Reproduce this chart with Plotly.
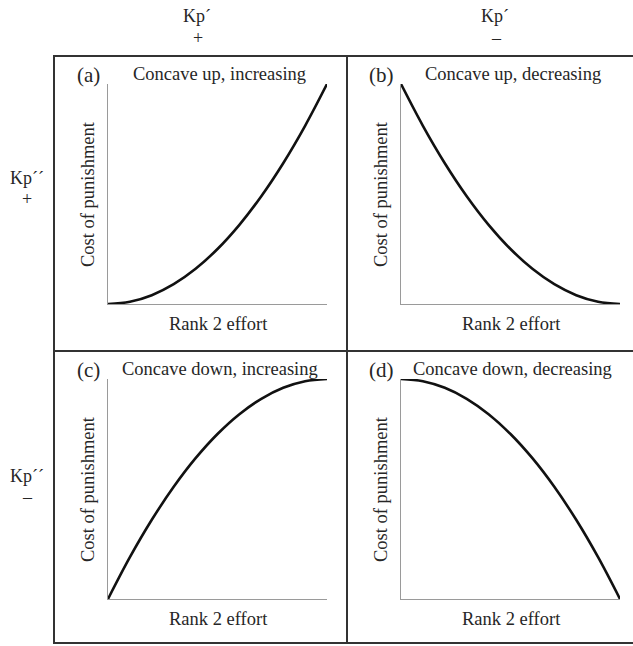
import plotly.graph_objects as go

W, H = 633, 646

# ---- data ----
effort = [0.0, 0.1, 0.2, 0.3, 0.4, 0.5, 0.6, 0.7, 0.8, 0.9, 1.0]
cost_a = [0.0, 0.01, 0.04, 0.09, 0.16, 0.25, 0.36, 0.49, 0.64, 0.81, 1.0]
cost_b = [1.0, 0.81, 0.64, 0.49, 0.36, 0.25, 0.16, 0.09, 0.04, 0.01, 0.0]
cost_c = [0.0, 0.19, 0.36, 0.51, 0.64, 0.75, 0.84, 0.91, 0.96, 0.99, 1.0]
cost_d = [1.0, 0.99, 0.96, 0.91, 0.84, 0.75, 0.64, 0.51, 0.36, 0.19, 0.0]

panel_letters = ["(a)", "(b)", "(c)", "(d)"]
panel_titles = ["Concave up, increasing", "Concave up, decreasing",
                "Concave down, increasing", "Concave down, decreasing"]
x_title = "Rank 2 effort"
y_title = "Cost of punishment"
col_labels = [("Kp´", "+"), ("Kp´", "–")]
row_labels = [("Kp´´", "+"), ("Kp´´", "–")]
series = [cost_a, cost_b, cost_c, cost_d]

FONT = "Liberation Serif"
TXT = "#262626"


def px(x):
    return x / W


def py(y):
    return 1 - y / H


# geometry in pixels
box_left, box_top, box_right, box_bottom = 54, 56, 640, 643
div_x, div_y = 347, 351
col_dx = div_x - box_left      # 293
row_dy = div_y - box_top       # 295
ax_x0, ax_x1 = 108, 327
ax_y0, ax_y1 = 84, 304

fig = go.Figure()
annotations = []
layout_axes = {}

for i in range(4):
    r, c = divmod(i, 2)
    ox = c * col_dx
    oy = r * row_dy
    idx = "" if i == 0 else str(i + 1)
    xa = "x" + idx
    ya = "y" + idx
    fig.add_trace(go.Scatter(
        x=effort, y=series[i], mode="lines",
        line=dict(color="#111111", width=2.6, shape="spline"),
        xaxis=xa, yaxis=ya, cliponaxis=False, hoverinfo="skip",
        showlegend=False))
    layout_axes["xaxis" + idx] = dict(
        domain=[px(ax_x0 + ox), px(ax_x1 + ox)], range=[0, 1],
        anchor=ya, showline=True, linecolor="#9a9a9a", linewidth=1,
        showgrid=False, zeroline=False, showticklabels=False, ticks="",
        fixedrange=True)
    layout_axes["yaxis" + idx] = dict(
        domain=[py(ax_y1 + oy), py(ax_y0 + oy)], range=[0, 1],
        anchor=xa, showline=True, linecolor="#9a9a9a", linewidth=1,
        showgrid=False, zeroline=False, showticklabels=False, ticks="",
        fixedrange=True)

    cx = (ax_x0 + ax_x1) / 2 + ox
    annotations.append(dict(text=panel_letters[i], x=px(88 + ox), y=py(75 + oy),
                            font=dict(size=21)))
    annotations.append(dict(text=panel_titles[i], x=px(cx + 2), y=py(74 + oy),
                            font=dict(size=18.5)))
    annotations.append(dict(text=x_title, x=px(cx + 1), y=py(324 + oy),
                            font=dict(size=18.5)))
    annotations.append(dict(text=y_title, x=px(88 + ox), y=py(194 + oy),
                            textangle=-90, font=dict(size=18.5)))

# column labels
for c, (a, b) in enumerate(col_labels):
    cx = [197, 495][c]
    annotations.append(dict(text=a, x=px(cx), y=py(16), font=dict(size=18)))
    annotations.append(dict(text=b, x=px(cx + 1), y=py(38), font=dict(size=18)))
# row labels
for r, (a, b) in enumerate(row_labels):
    cy = [178, 476][r]
    annotations.append(dict(text=a, x=px(27), y=py(cy), font=dict(size=18)))
    annotations.append(dict(text=b, x=px(27), y=py(cy + 21), font=dict(size=18)))

for a in annotations:
    a.update(xref="paper", yref="paper", showarrow=False,
             xanchor="center", yanchor="middle")
    a["font"].update(family=FONT, color=TXT)

LINE = dict(color="#333333", width=2)
shapes = [
    dict(type="rect", x0=px(box_left), x1=px(box_right), y0=py(box_bottom), y1=py(box_top),
         xref="paper", yref="paper", line=LINE),
    dict(type="line", x0=px(div_x), x1=px(div_x), y0=py(box_bottom), y1=py(box_top),
         xref="paper", yref="paper", line=LINE),
    dict(type="line", x0=px(box_left), x1=px(box_right), y0=py(div_y), y1=py(div_y),
         xref="paper", yref="paper", line=LINE),
]

fig.update_layout(
    width=W, height=H, margin=dict(l=0, r=0, t=0, b=0),
    paper_bgcolor="white", plot_bgcolor="white",
    annotations=annotations, shapes=shapes, showlegend=False,
    **layout_axes)

fig.write_html("out.html", config={"displayModeBar": False})
